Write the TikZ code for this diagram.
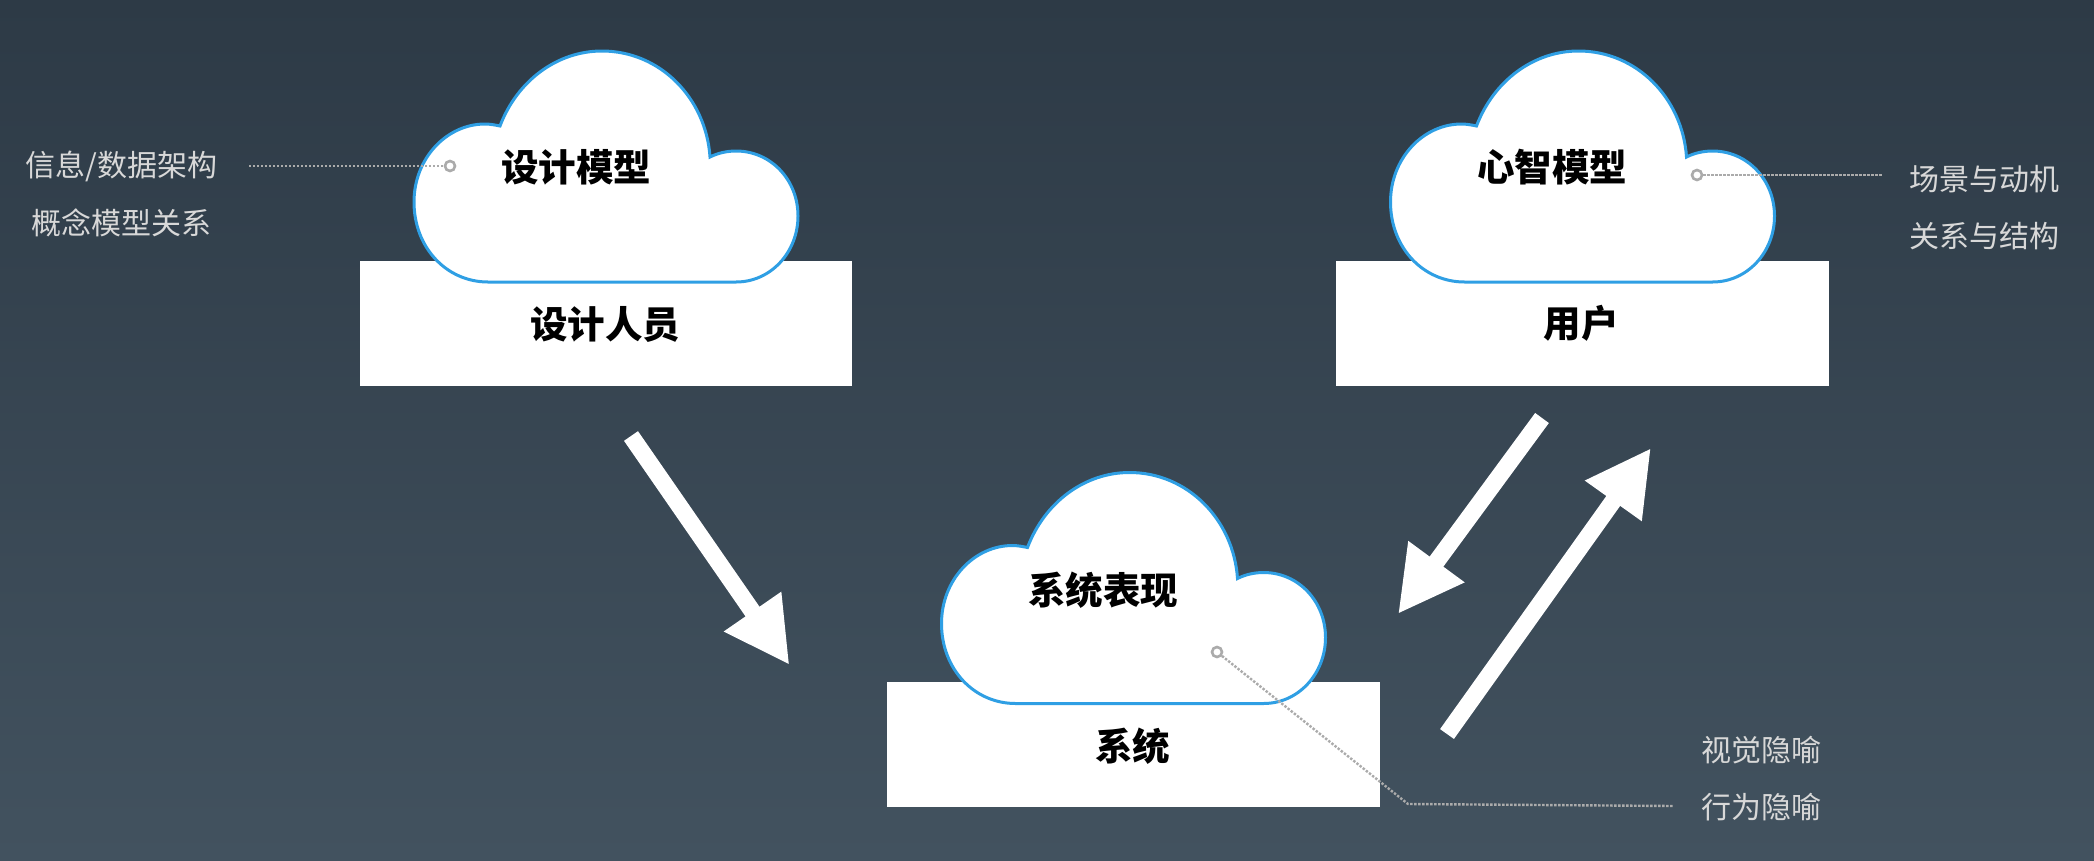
\documentclass[tikz,border=0pt]{standalone}
\usepackage{fontspec}
\usetikzlibrary{arrows.meta}
\setmainfont{Noto Sans CJK SC}
\definecolor{bgtop}{HTML}{2D3A46}
\definecolor{bgbot}{HTML}{42525F}
\definecolor{cloudblue}{HTML}{2F9FE4}
\definecolor{leadgray}{HTML}{ABABAB}
\definecolor{sidetext}{HTML}{D8D8D8}
\tikzset{
  x=1pt,y=-1pt,
  cloudpic/.pic={
    \draw[draw=cloudblue,fill=white,line width=3pt,line join=miter]
      (500,126) .. controls (517,81) and (557,51) .. (602,51)
      .. controls (660,51) and (706,98) .. (710,157)
      .. controls (718,153) and (727,151) .. (736,151)
      .. controls (771,151) and (798,180) .. (798,216)
      .. controls (798,252) and (771,282) .. (736,282)
      -- (488,282)
      .. controls (447,282) and (414,248) .. (414,202)
      .. controls (414,158) and (447,124) .. (485,124)
      .. controls (490,124) and (495,125) .. (500,126) -- cycle;
  },
  basebox/.style={fill=white,draw=none,minimum width=492.8pt,minimum height=125pt,inner sep=0pt,anchor=north west},
  mainlabel/.style={font=\bfseries\fontsize{37.5}{37.5}\selectfont,text=black,inner sep=0pt,anchor=center},
  sidelabel/.style={font=\fontsize{30}{30}\selectfont,text=sidetext,inner sep=0pt,anchor=center},
  blockarrow/.style={draw=white,line width=17pt,-{Triangle[length=65pt,width=65pt]}},
  leader/.style={draw=leadgray,line width=2.4pt,dash pattern=on 2.4pt off 1.6pt},
  ring/.style={circle,draw=leadgray,line width=2.6pt,fill=none,minimum size=10pt,inner sep=0pt},
}
\begin{document}
\begin{tikzpicture}
\useasboundingbox (0,0) rectangle (2094,860);
\shade[top color=bgtop,bottom color=bgbot] (0,0) rectangle (2094,860);

\node[basebox] (boxA) at (359.3,261) {};
\node[basebox] (boxB) at (1335.5,261) {};
\node[basebox] (boxC) at (886.8,682) {};

\pic at (0,0) {cloudpic};
\pic at (976.5,0) {cloudpic};
\pic at (527.5,421.5) {cloudpic};

\node[mainlabel] (tA) at (576,167) {设计模型};
\node[mainlabel] (tB) at (1552,167) {心智模型};
\node[mainlabel] (tC) at (1103,590) {系统表现};
\node[mainlabel] (uA) at (605,324.5) {设计人员};
\node[mainlabel] (uB) at (1581,323.5) {用户};
\node[mainlabel] (uC) at (1132.5,746.5) {系统};

\node[sidelabel] (s1) at (121.5,166) {信息/数据架构};
\node[sidelabel] (s2) at (121.5,223) {概念模型关系};
\node[sidelabel] (s3) at (1984,179) {场景与动机};
\node[sidelabel] (s4) at (1984,236) {关系与结构};
\node[sidelabel] (s5) at (1761,750) {视觉隐喻};
\node[sidelabel] (s6) at (1761,807) {行为隐喻};

\coordinate (a1s) at (631,436);
\coordinate (a1e) at (789.5,665);
\coordinate (a2s) at (1542,418);
\coordinate (a2e) at (1398,614);
\coordinate (a3s) at (1447,734);
\coordinate (a3e) at (1651,448);
\draw[blockarrow] (a1s) -- (a1e);
\draw[blockarrow] (a2s) -- (a2e);
\draw[blockarrow] (a3s) -- (a3e);

\node[ring] (r1) at (450,166) {};
\node[ring] (r2) at (1697,175) {};
\node[ring] (r3) at (1217,652) {};
\coordinate (l1) at (249,166);
\coordinate (l2) at (1882,175);
\coordinate (l3c) at (1408,804);
\coordinate (l3) at (1673,806);
\draw[leader] (l1) -- (r1);
\draw[leader] (r2) -- (l2);
\draw[leader] (r3) -- (l3c) -- (l3);
\end{tikzpicture}
\end{document}
